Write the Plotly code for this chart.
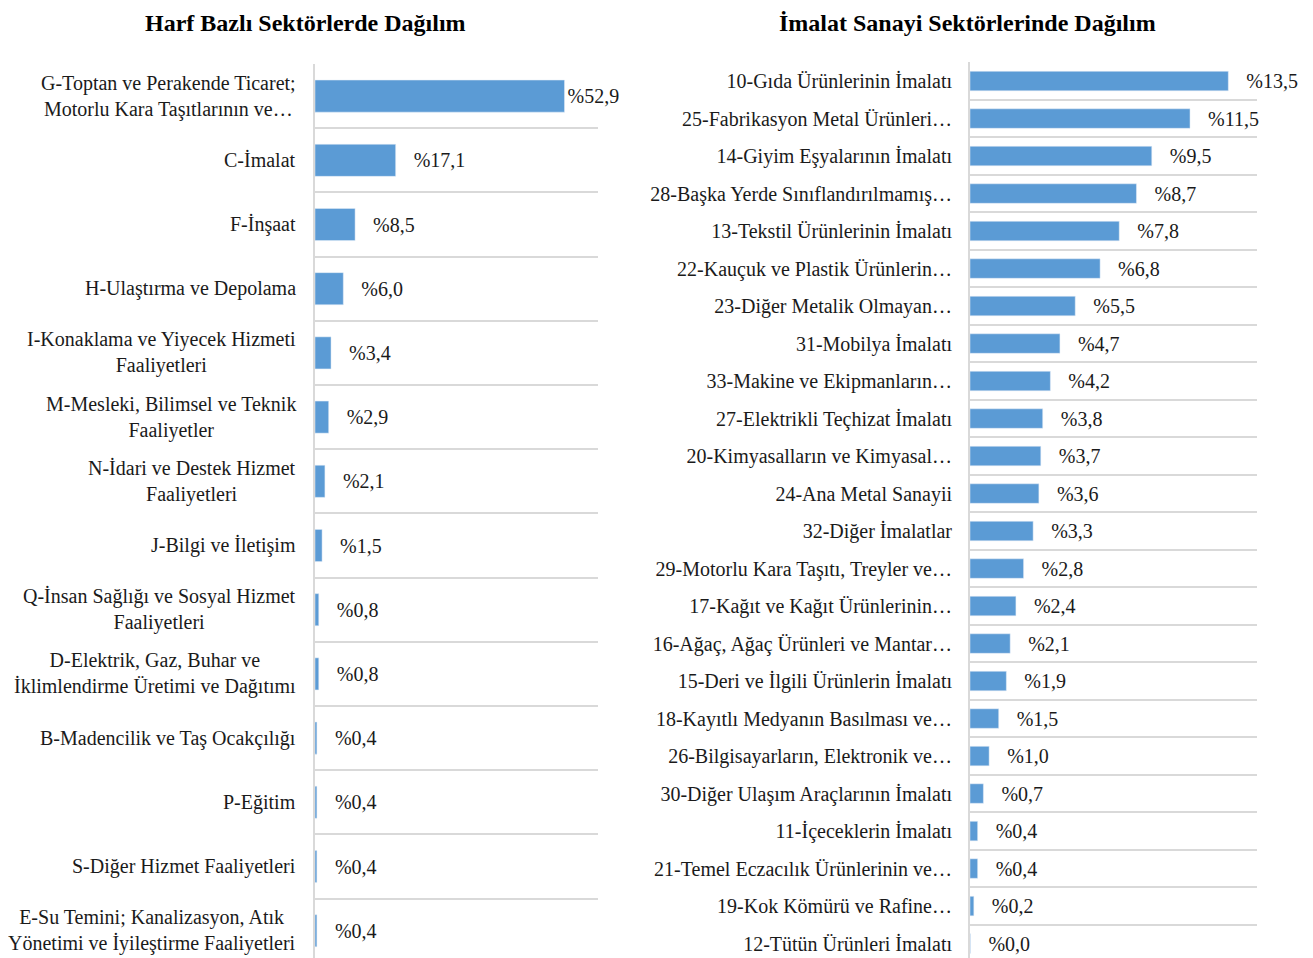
import plotly.graph_objects as go

left_categories = [
    "G-Toptan ve Perakende Ticaret;<br>Motorlu Kara Taşıtlarının ve…",
    "C-İmalat",
    "F-İnşaat",
    "H-Ulaştırma ve Depolama",
    "I-Konaklama ve Yiyecek Hizmeti<br>Faaliyetleri",
    "M-Mesleki, Bilimsel ve Teknik<br>Faaliyetler",
    "N-İdari ve Destek Hizmet<br>Faaliyetleri",
    "J-Bilgi ve İletişim",
    "Q-İnsan Sağlığı ve Sosyal Hizmet<br>Faaliyetleri",
    "D-Elektrik, Gaz, Buhar ve<br>İklimlendirme Üretimi ve Dağıtımı",
    "B-Madencilik ve Taş Ocakçılığı",
    "P-Eğitim",
    "S-Diğer Hizmet Faaliyetleri",
    "E-Su Temini; Kanalizasyon, Atık<br>Yönetimi ve İyileştirme Faaliyetleri",
]
left_values = [52.9, 17.1, 8.5, 6.0, 3.4, 2.9, 2.1, 1.5, 0.8, 0.8, 0.4, 0.4, 0.4, 0.4]

right_categories = [
    "10-Gıda Ürünlerinin İmalatı",
    "25-Fabrikasyon Metal Ürünleri…",
    "14-Giyim Eşyalarının İmalatı",
    "28-Başka Yerde Sınıflandırılmamış…",
    "13-Tekstil Ürünlerinin İmalatı",
    "22-Kauçuk ve Plastik Ürünlerin…",
    "23-Diğer Metalik Olmayan…",
    "31-Mobilya İmalatı",
    "33-Makine ve Ekipmanların…",
    "27-Elektrikli Teçhizat İmalatı",
    "20-Kimyasalların ve Kimyasal…",
    "24-Ana Metal Sanayii",
    "32-Diğer İmalatlar",
    "29-Motorlu Kara Taşıtı, Treyler ve…",
    "17-Kağıt ve Kağıt Ürünlerinin…",
    "16-Ağaç, Ağaç Ürünleri ve Mantar…",
    "15-Deri ve İlgili Ürünlerin İmalatı",
    "18-Kayıtlı Medyanın Basılması ve…",
    "26-Bilgisayarların, Elektronik ve…",
    "30-Diğer Ulaşım Araçlarının İmalatı",
    "11-İçeceklerin İmalatı",
    "21-Temel Eczacılık Ürünlerinin ve…",
    "19-Kok Kömürü ve Rafine…",
    "12-Tütün Ürünleri İmalatı",
]
right_values = [13.5, 11.5, 9.5, 8.7, 7.8, 6.8, 5.5, 4.7, 4.2, 3.8, 3.7, 3.6, 3.3,
                2.8, 2.4, 2.1, 1.9, 1.5, 1.0, 0.7, 0.4, 0.4, 0.2, 0.02]

left_title = "Harf Bazlı Sektörlerde Dağılım"
right_title = "İmalat Sanayi Sektörlerinde Dağılım"

FONT = "Liberation Serif"
BAR = "#5B9BD5"
GRID = "#D9D9D9"
TXT = "#1a1a1a"
PAD = "\u00a0\u00a0\u00a0"
LBL = 20


def fmt(v):
    return "%" + f"{v:.1f}".replace(".", ",")


left_text = [(fmt(v) if i == 0 else PAD + fmt(v)) for i, v in enumerate(left_values)]
right_text = [PAD + fmt(v) for v in right_values]

W, H = 1313, 958
OFF = 8  # page body margin


def px(x):
    return (x - OFF) / W


def py(y):
    return 1 - (y - OFF) / H


fig = go.Figure()
fig.add_trace(go.Bar(
    x=left_values, y=left_categories, orientation="h",
    marker=dict(color=BAR), width=0.5,
    text=left_text, textposition="outside", cliponaxis=False,
    constraintext="none",
    textfont=dict(family=FONT, size=LBL, color=TXT),
    xaxis="x", yaxis="y", hoverinfo="skip",
))
fig.add_trace(go.Bar(
    x=right_values, y=right_categories, orientation="h",
    marker=dict(color=BAR), width=0.52,
    text=right_text, textposition="outside", cliponaxis=False,
    constraintext="none",
    textfont=dict(family=FONT, size=LBL, color=TXT),
    xaxis="x2", yaxis="y2", hoverinfo="skip",
))

annotations = []
for c in left_categories:
    annotations.append(dict(
        x=0, y=c, xref="x", yref="y", xanchor="right", yanchor="middle",
        xshift=-17, text=c, showarrow=False, align="center",
        font=dict(family=FONT, size=LBL, color=TXT),
    ))
annotations.append(dict(
    x=px(305), y=1, xref="paper", yref="paper",
    xanchor="center", yanchor="top", text="<b>" + left_title + "</b>",
    showarrow=False, font=dict(family=FONT, size=24, color="#000"),
))
annotations.append(dict(
    x=px(967), y=1, xref="paper", yref="paper",
    xanchor="center", yanchor="top", text="<b>" + right_title + "</b>",
    showarrow=False, font=dict(family=FONT, size=24, color="#000"),
))

band_l = 64.2
band_r = 37.5
top_l = 64
top_r = 62.3

fig.update_layout(
    width=W, height=H,
    margin=dict(l=0, r=0, t=0, b=0),
    paper_bgcolor="white", plot_bgcolor="white",
    showlegend=False,
    annotations=annotations,
    xaxis=dict(domain=[px(315), px(598)], range=[0, 60], showgrid=False,
               showticklabels=False, zeroline=False, fixedrange=True),
    yaxis=dict(domain=[0, py(top_l)], type="category",
               categoryorder="array", categoryarray=left_categories,
               range=[-0.5 + (H + OFF - top_l) / band_l, -0.5],
               showticklabels=False, tickson="boundaries", ticks="",
               showgrid=True, gridcolor=GRID, gridwidth=1.5,
               showline=True, linecolor=GRID, linewidth=2, zeroline=False),
    xaxis2=dict(domain=[px(970), px(1257)], range=[0, 15], showgrid=False,
                showticklabels=False, zeroline=False, anchor="y2"),
    yaxis2=dict(domain=[0, py(top_r)], type="category", anchor="x2",
                categoryorder="array", categoryarray=right_categories,
                range=[-0.5 + (H + OFF - top_r) / band_r, -0.5],
                showticklabels=True, tickson="boundaries", ticks="",
                ticklabelstandoff=12,
                tickfont=dict(family=FONT, size=LBL, color=TXT),
                showgrid=True, gridcolor=GRID, gridwidth=1.5,
                showline=True, linecolor=GRID, linewidth=2, zeroline=False),
)

fig.write_html("out.html")
